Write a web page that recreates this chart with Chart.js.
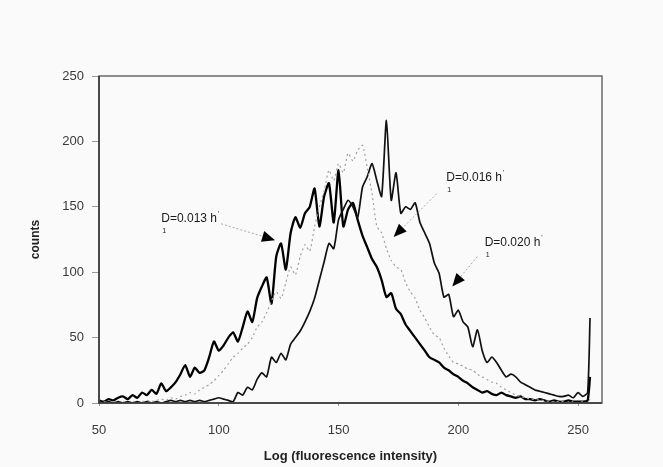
<!DOCTYPE html>
<html>
<head>
<meta charset="utf-8">
<script src="https://cdn.jsdelivr.net/npm/chart.js@4/dist/chart.umd.min.js"></script>
<style>
  body { margin: 0; background: #fafafa; }
  canvas { display: block; }
</style>
</head>
<body>
<canvas id="myChart" width="663" height="467"></canvas>
<script>
// channel (log fluorescence intensity)
const channels = [
  50, 52, 54, 56, 58, 60, 62, 64, 66, 68,
  70, 72, 74, 76, 78, 80, 82, 84, 86, 88,
  90, 92, 94, 96, 98, 100, 102, 104, 106, 108,
  110, 112, 114, 116, 118, 120, 122, 124, 126, 128,
  130, 132, 134, 136, 138, 140, 142, 144, 146, 148,
  150, 152, 154, 156, 158, 160, 162, 164, 166, 168,
  170, 172, 174, 176, 178, 180, 182, 184, 186, 188,
  190, 192, 194, 196, 198, 200, 202, 204, 206, 208,
  210, 212, 214, 216, 218, 220, 222, 224, 226, 228,
  230, 232, 234, 236, 238, 240, 242, 244, 246, 248,
  250, 252, 254, 255
];

// D = 0.013 h-1 (thick black)
const counts013 = [
  2, 1, 3, 2, 4, 5, 3, 6, 4, 8,
  6, 10, 7, 15, 9, 12, 16, 22, 29, 20,
  27, 23, 25, 35, 47, 40, 44, 50, 54, 47,
  58, 70, 62, 80, 89, 96, 76, 112, 122, 102,
  130, 142, 134, 145, 150, 164, 135, 158, 168, 138,
  178, 135, 148, 153, 140, 128, 119, 110, 104, 94,
  81, 84, 72, 68, 60, 55, 50, 45, 40, 35,
  33, 31, 27, 25, 22, 20, 17, 15, 12, 10,
  8, 9, 7, 6, 8, 6, 5, 4, 5, 3,
  3, 2, 3, 2, 1, 2, 1, 1, 2, 1,
  1, 1, 2, 20
];

// D = 0.016 h-1 (grey dashed)
const counts016 = [
  0, 1, 0, 1, 0, 1, 0, 1, 0, 1,
  2, 1, 2, 3, 2, 4, 3, 5, 6, 8,
  7, 10, 12, 14, 17, 21, 25, 30, 35, 38,
  42, 45, 50, 58, 62, 69, 78, 85, 80, 92,
  104, 98, 112, 121, 116, 135, 150, 162, 178, 170,
  183, 176, 191, 185, 193, 197, 180, 160, 135, 130,
  118, 109, 104, 102, 92, 85, 80, 71, 65, 58,
  52, 50, 42, 36, 31, 30, 28, 26, 25, 22,
  20, 18, 16, 15, 12, 10, 8, 6, 5, 4,
  3, 3, 2, 2, 1, 1, 1, 1, 0, 1,
  0, 1, 0, 3
];

// D = 0.020 h-1 (thin black)
const counts020 = [
  0, 0, 1, 0, 1, 0, 1, 0, 1, 0,
  1, 0, 1, 0, 1, 2, 1, 2, 1, 2,
  1, 2, 1, 2, 3, 4, 3, 2, 1, 8,
  6, 12, 10, 18, 23, 20, 35, 31, 38, 33,
  45, 50, 55, 62, 70, 80, 94, 108, 122, 118,
  140, 148, 155, 150, 142, 165, 173, 183, 170, 158,
  216, 155, 176, 145, 150, 148, 153, 138, 130, 122,
  107, 99, 81, 83, 66, 71, 62, 58, 43, 56,
  40, 31, 35, 31, 25, 20, 22, 20, 16, 14,
  12, 10, 9, 8, 7, 6, 5, 5, 6, 4,
  8, 5, 8, 65
];

const xTicks = [50, 100, 150, 200, 250];

// arrow labels, in data units: text position, arrow tail, arrow tip
const labels = ['D=0.013 h', 'D=0.016 h', 'D=0.020 h'];
const labelAt = [[76, 138], [195, 170], [211, 120]];
const arrowFrom = [[101, 137], [191, 160], [208, 112]];
const arrowTo = [[123.5, 124.5], [173, 127], [197.5, 89]];

function pts(ys) {
  return channels.map((x, i) => ({ x: x, y: ys[i] }));
}

const frame = {
  id: 'frame',
  beforeDraw(chart) {
    const c = chart.ctx;
    c.save();
    c.fillStyle = '#fafafa';
    c.fillRect(0, 0, chart.width, chart.height);
    c.restore();
  },
  afterDatasetsDraw(chart) {
    const c = chart.ctx, a = chart.chartArea;
    c.save();
    c.strokeStyle = '#6a6a6a';
    c.lineWidth = 1.5;
    c.strokeRect(a.left, a.top, a.right - a.left, a.bottom - a.top);
    c.strokeStyle = '#333';
    c.beginPath();
    c.moveTo(a.left, a.top);
    c.lineTo(a.left, a.bottom);
    c.lineTo(a.right, a.bottom);
    c.stroke();
    c.restore();
  },
  afterDraw(chart) {
    const c = chart.ctx, xs = chart.scales.x, ys = chart.scales.y;
    c.save();
    labels.forEach((t, i) => {
      const tx = xs.getPixelForValue(labelAt[i][0]);
      const ty = ys.getPixelForValue(labelAt[i][1]);
      c.fillStyle = '#1a1a1a';
      c.font = '12px "Liberation Sans", Arial, sans-serif';
      c.textBaseline = 'alphabetic';
      c.fillText(t, tx, ty);
      const w = c.measureText(t).width;
      c.font = '7px "Liberation Sans", Arial, sans-serif';
      c.fillText("'", w + tx + 1, ty - 6);
      c.fillText('1', tx + 1, ty + 11);

      const x0 = xs.getPixelForValue(arrowFrom[i][0]), y0 = ys.getPixelForValue(arrowFrom[i][1]);
      const x1 = xs.getPixelForValue(arrowTo[i][0]), y1 = ys.getPixelForValue(arrowTo[i][1]);
      const ang = Math.atan2(y1 - y0, x1 - x0);
      c.strokeStyle = '#aaa';
      c.lineWidth = 1;
      c.setLineDash([2, 2]);
      c.beginPath();
      c.moveTo(x0, y0);
      c.lineTo(x1 - 10 * Math.cos(ang), y1 - 10 * Math.sin(ang));
      c.stroke();
      c.setLineDash([]);
      c.fillStyle = '#000';
      c.beginPath();
      c.moveTo(x1, y1);
      c.lineTo(x1 - 13 * Math.cos(ang) + 5.5 * Math.sin(ang), y1 - 13 * Math.sin(ang) - 5.5 * Math.cos(ang));
      c.lineTo(x1 - 13 * Math.cos(ang) - 5.5 * Math.sin(ang), y1 - 13 * Math.sin(ang) + 5.5 * Math.cos(ang));
      c.closePath();
      c.fill();
    });
    c.restore();
  }
};

const ctx = document.getElementById('myChart').getContext('2d');

const chart = new Chart(ctx, {
  type: 'line',
  data: {
    datasets: [{
      label: 'D=0.016',
      data: pts(counts016),
      borderColor: '#a0a0a0',
      borderWidth: 1.2,
      borderDash: [2, 3],
      pointRadius: 0,
      tension: 0.2,
      fill: false
    }, {
      label: 'D=0.020',
      data: pts(counts020),
      borderColor: '#111',
      borderWidth: 1.7,
      pointRadius: 0,
      tension: 0.2,
      fill: false
    }, {
      label: 'D=0.013',
      data: pts(counts013),
      borderColor: '#000',
      borderWidth: 2.3,
      pointRadius: 0,
      tension: 0.2,
      fill: false
    }]
  },
  options: {
    responsive: false,
    animation: false,
    layout: { padding: { top: 76, right: 61, left: 0, bottom: 0 } },
    plugins: {
      legend: { display: false },
      tooltip: { enabled: false }
    },
    scales: {
      x: {
        type: 'linear',
        min: 50,
        max: 260,
        afterBuildTicks: s => { s.ticks = xTicks.map(v => ({ value: v })); },
        afterFit: s => { s.height = 64; },
        border: { display: false },
        grid: { drawOnChartArea: false, drawTicks: true, tickLength: 3, color: '#999' },
        ticks: {
          padding: 17,
          maxRotation: 0,
          color: '#3a3a3a',
          font: { family: '"Liberation Sans", Arial, sans-serif', size: 13 }
        },
        title: {
          display: true,
          text: 'Log (fluorescence intensity)',
          color: '#222',
          padding: { top: 0, bottom: 3 },
          font: { family: '"Liberation Sans", Arial, sans-serif', size: 13, weight: 'bold' }
        }
      },
      y: {
        min: 0,
        max: 250,
        afterFit: s => { s.width = 99; },
        border: { display: false },
        grid: { drawOnChartArea: false, drawTicks: true, tickLength: 7, color: '#999' },
        ticks: {
          stepSize: 50,
          padding: 8,
          color: '#3a3a3a',
          font: { family: '"Liberation Sans", Arial, sans-serif', size: 13 }
        },
        title: {
          display: true,
          text: 'counts',
          color: '#222',
          padding: { top: 28, bottom: 0 },
          font: { family: '"Liberation Sans", Arial, sans-serif', size: 12, weight: 'bold' }
        }
      }
    }
  },
  plugins: [frame]
});
</script>
</body>
</html>
